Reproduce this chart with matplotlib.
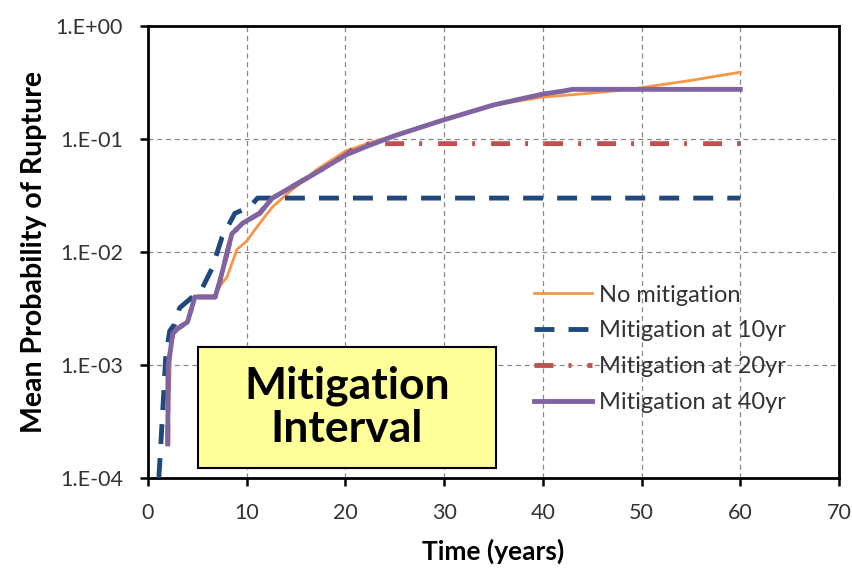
import matplotlib
matplotlib.use("Agg")
import matplotlib.pyplot as plt
from matplotlib.patches import Rectangle

plt.rcParams['font.family'] = ['Lato', 'DejaVu Sans']

# No mitigation
t_none = [2.0, 2.3, 2.5, 3.0, 4.0, 4.7, 6.7, 7.3, 8.0, 9.0, 10.0, 11.0, 12.6, 14.5, 17, 20, 22.5, 25, 30, 35, 40, 45, 48.8, 50, 55, 60]
p_none = [2e-4, 1.3e-3, 1.9e-3, 2.1e-3, 2.4e-3, 4.0e-3, 4.0e-3, 5.0e-3, 6.0e-3, 1.05e-2, 1.25e-2, 1.65e-2, 2.5e-2, 3.5e-2, 5.3e-2, 7.8e-2, 9.3e-2, 0.108, 0.15, 0.2, 0.235, 0.255, 0.275, 0.285, 0.33, 0.39]

# Mitigation at 10yr
t_10 = [1.1, 1.5, 1.8, 2.2, 2.7, 3.2, 4.5, 5.5, 6.5, 7.5, 8.8, 10.3, 11.1, 60]
p_10 = [1e-4, 4e-4, 1.2e-3, 2.0e-3, 2.3e-3, 3.2e-3, 4.0e-3, 4.8e-3, 7.2e-3, 1.35e-2, 2.2e-2, 2.5e-2, 3.0e-2, 3.0e-2]

# Mitigation at 40yr
t_40 = [2.0, 2.05, 2.3, 2.5, 3.0, 4.0, 4.75, 6.8, 7.3, 8.5, 9.6, 11.3, 12.6, 14.4, 17, 20, 22, 25, 30, 35, 40, 42, 43, 60]
p_40 = [2e-4, 1.0e-3, 1.4e-3, 1.9e-3, 2.1e-3, 2.4e-3, 4.0e-3, 4.0e-3, 5.6e-3, 1.45e-2, 1.8e-2, 2.2e-2, 3.0e-2, 3.7e-2, 5.0e-2, 7.2e-2, 8.5e-2, 0.107, 0.148, 0.2, 0.25, 0.265, 0.275, 0.275]

# Mitigation at 20yr
t_20 = [2.0, 2.05, 2.3, 2.5, 3.0, 4.0, 4.75, 6.8, 7.3, 8.5, 9.6, 11.3, 12.6, 14.4, 17, 20, 21, 21.7, 25, 60]
p_20 = [2e-4, 1.0e-3, 1.4e-3, 1.9e-3, 2.1e-3, 2.4e-3, 4.0e-3, 4.0e-3, 5.6e-3, 1.45e-2, 1.8e-2, 2.2e-2, 3.0e-2, 3.7e-2, 5.0e-2, 7.2e-2, 8.5e-2, 0.09, 0.091, 0.091]

x_ticks = [0, 10, 20, 30, 40, 50, 60, 70]
y_ticks = [1e-4, 1e-3, 1e-2, 1e-1, 1e0]
y_labels = ["1.E-04", "1.E-03", "1.E-02", "1.E-01", "1.E+00"]

fig = plt.figure(figsize=(8.52, 5.73), dpi=100)
left, right, bottom, top = 148 / 852, 839 / 852, (573 - 478) / 573, (573 - 26) / 573
ax = fig.add_axes([left, bottom, right - left, top - bottom])

ax.plot(t_none, p_none, color='#F79646', lw=2.0, label='No mitigation', zorder=3)
ax.plot(t_10, p_10, color='#1F497D', lw=3.5, dashes=(4.1, 2.9), label='Mitigation at 10yr', zorder=4)
ax.plot(t_20, p_20, color='#C0504D', lw=3.5, dashes=(3.9, 3.1, 0.6, 3.3), label='Mitigation at 20yr', zorder=3)
ax.plot(t_40, p_40, color='#8064A2', lw=3.5, label='Mitigation at 40yr', zorder=5)

ax.set_yscale('log')
ax.set_xlim(0, 70)
ax.set_ylim(1e-4, 1e0)
ax.set_xticks(x_ticks)
ax.set_xticklabels([str(v) for v in x_ticks])
ax.set_yticks(y_ticks)
ax.set_yticklabels(y_labels)
ax.minorticks_off()
ax.tick_params(axis='both', direction='out', length=6, width=1.8, labelsize=15.5, colors='black', pad=12)
ax.tick_params(axis='y', labelcolor='#333333')
ax.tick_params(axis='x', labelcolor='#333333')
for s in ax.spines.values():
    s.set_linewidth(2)
    s.set_color('black')
ax.grid(True, which='major', color='#888888', linestyle=(0, (4, 3)), linewidth=0.9)

ax.set_xlabel('Time (years)', fontsize=19, fontweight='bold', labelpad=11)
ax.set_ylabel('Mean Probability of Rupture', fontsize=20.5, fontweight='bold', labelpad=6)

leg = ax.legend(loc='upper left', bbox_to_anchor=(0.559, 0.428), frameon=False,
                borderaxespad=0, borderpad=0,
                fontsize=17, handlelength=2.45, labelspacing=0.63, handletextpad=0.3)
for txt in leg.get_texts():
    txt.set_color('#333333')

# Text box
ax.add_patch(Rectangle((0.072, 0.022), 0.432, 0.267, transform=ax.transAxes,
                       facecolor='#FFFF99', edgecolor='black', lw=1.5, zorder=6))
ax.text(0.288, 0.156, 'Mitigation\nInterval', transform=ax.transAxes, ha='center', va='center',
        fontsize=32, fontweight='bold', color='black', linespacing=1.1, zorder=7)

fig.savefig('out.png', dpi=100)
